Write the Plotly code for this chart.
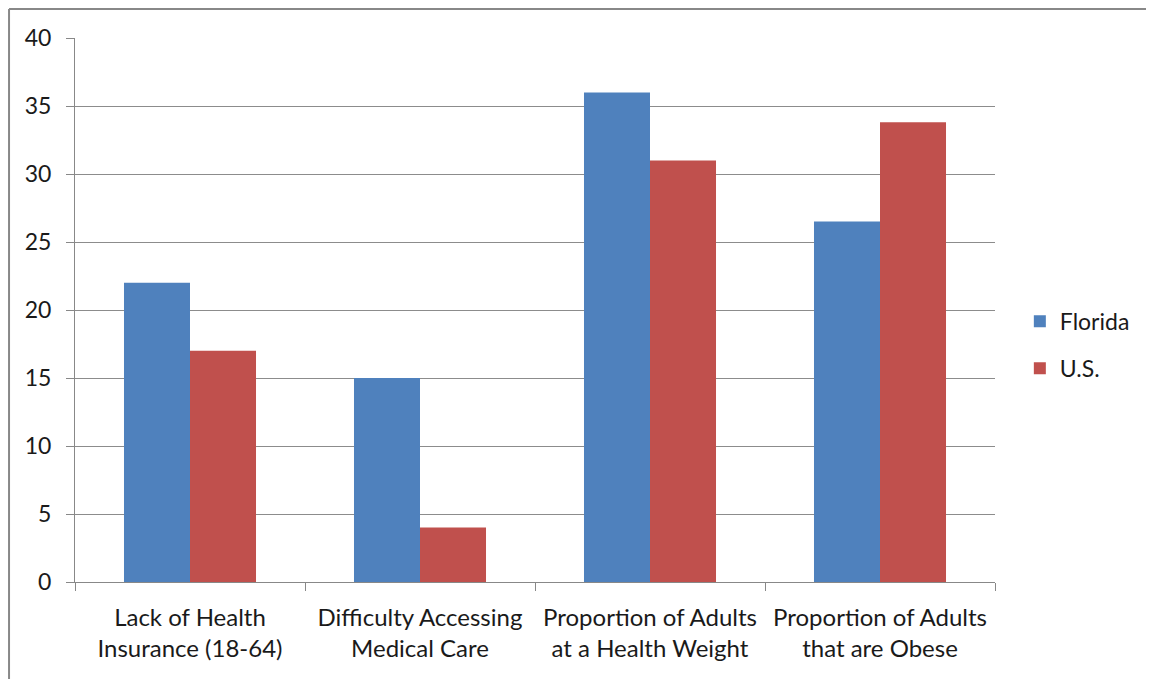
import plotly.graph_objects as go

categories = [
    "Lack of Health<br>Insurance (18-64)",
    "Difficulty Accessing<br>Medical Care",
    "Proportion of Adults<br>at a Health Weight",
    "Proportion of Adults<br>that are Obese",
]
florida = [22, 15, 36, 26.5]
us = [17, 4, 31, 33.8]
y_ticks = [0, 5, 10, 15, 20, 25, 30, 35, 40]

FONT = "Lato"
FS = 23
TXT = "#1a1a1a"
fig = go.Figure()
fig.add_trace(go.Bar(name="Florida", x=categories, y=florida, marker_color="#4F81BD",
                     marker_line_width=0, legendgroup="a"))
fig.add_trace(go.Bar(name="U.S.", x=categories, y=us, marker_color="#C0504D",
                     marker_line_width=0, legendgroup="b"))

fig.update_layout(
    width=1146, height=671,
    margin=dict(l=67, r=159, t=30, b=97),
    paper_bgcolor="white", plot_bgcolor="white",
    barmode="group", bargap=0.426, bargroupgap=0,
    font=dict(family=FONT, size=FS, color=TXT),
    showlegend=True,
    legend=dict(x=1.027, y=0.436, xanchor="left", yanchor="middle",
                traceorder="grouped", tracegroupgap=14,
                font=dict(family=FONT, size=FS, color=TXT),
                itemwidth=30),
    xaxis=dict(showline=True, linecolor="#888888", linewidth=1,
               ticks="outside", ticklen=8, tickcolor="#888888",
               tickson="boundaries", showgrid=False,
               ticklabelstandoff=14,
               tickfont=dict(family=FONT, size=24, color=TXT)),
    yaxis=dict(range=[0, 40], tickvals=y_ticks, showline=True, linecolor="#888888",
               linewidth=1, ticks="outside", ticklen=8, tickcolor="#888888",
               showgrid=True, gridcolor="#8c8c8c", gridwidth=1, zeroline=False,
               ticklabelstandoff=10,
               tickfont=dict(family=FONT, size=FS, color=TXT)),
    shapes=[
        dict(type="line", xref="paper", yref="paper", x0=-0.0717, x1=1.2,
             y0=1.0533, y1=1.0533, line=dict(color="#888888", width=2)),
        dict(type="line", xref="paper", yref="paper", x0=-0.0717, x1=-0.0717,
             y0=-0.2, y1=1.0533, line=dict(color="#888888", width=2)),
    ],
)

fig.write_html("out.html")
